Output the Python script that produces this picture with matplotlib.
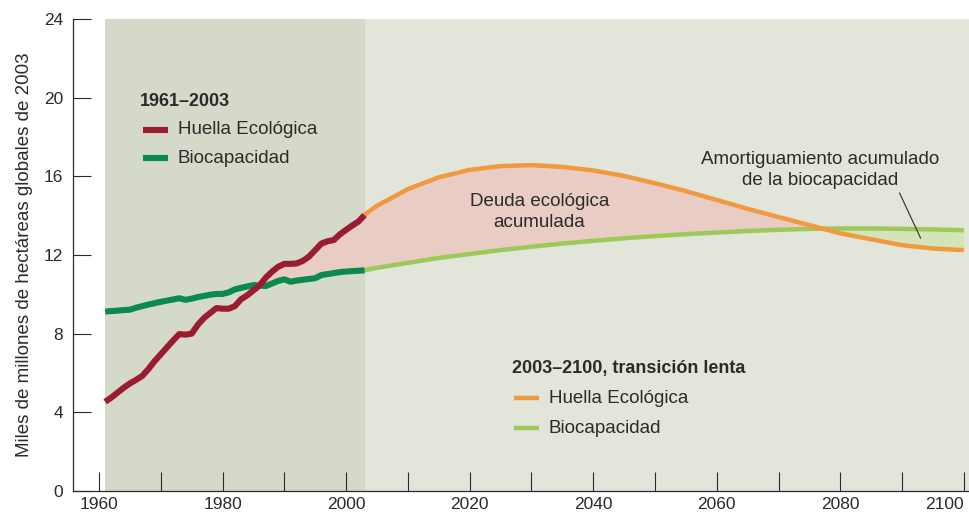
import matplotlib.pyplot as plt
import numpy as np

plt.rcParams['font.family'] = ['Liberation Sans', 'DejaVu Sans']
plt.rcParams['font.size'] = 13.5

# historical series, 1961-2003 (one value per year)
hist_years = list(range(1961, 2004))
hist_footprint = [4.54, 4.75, 5.0, 5.25, 5.47, 5.65, 5.85, 6.2, 6.6, 6.95,
                  7.3, 7.65, 7.98, 7.95, 8.0, 8.45, 8.8, 9.05, 9.3, 9.27,
                  9.27, 9.4, 9.75, 9.95, 10.2, 10.45, 10.85, 11.15, 11.4, 11.55,
                  11.55, 11.57, 11.7, 11.92, 12.25, 12.58, 12.7, 12.76, 13.05, 13.28,
                  13.5, 13.7, 14.03]
hist_biocap = [9.12, 9.15, 9.17, 9.2, 9.22, 9.32, 9.4, 9.48, 9.55, 9.62,
               9.68, 9.74, 9.8, 9.72, 9.78, 9.86, 9.92, 9.98, 10.02, 10.02,
               10.1, 10.25, 10.33, 10.4, 10.47, 10.45, 10.42, 10.55, 10.68, 10.76,
               10.64, 10.7, 10.74, 10.78, 10.82, 10.98, 11.03, 11.08, 11.13, 11.16,
               11.18, 11.2, 11.22]

# slow-transition scenario, 2003-2100
proj_years = [2003, 2005, 2010, 2015, 2020, 2025, 2030, 2035, 2040, 2045, 2050,
              2055, 2060, 2065, 2070, 2075, 2080, 2085, 2090, 2095, 2100]
proj_footprint = [14.05, 14.5, 15.35, 15.95, 16.33, 16.52, 16.57, 16.48, 16.3, 16.02, 15.65,
                  15.25, 14.8, 14.35, 13.93, 13.52, 13.1, 12.8, 12.5, 12.33, 12.25]
proj_biocap = [11.22, 11.35, 11.6, 11.85, 12.05, 12.25, 12.42, 12.58, 12.72, 12.85, 12.96,
               13.06, 13.14, 13.22, 13.28, 13.33, 13.35, 13.35, 13.33, 13.3, 13.26]

red = '#9b1b30'
green = '#0b8a4f'
orange = '#f0993e'
lgreen = '#9dc95b'
txt = '#2b2b2b'

fig = plt.figure(figsize=(9.7, 5.15), dpi=100)
ax = fig.add_axes([0.0753, 0.0466, 0.9247, 0.9165])

ax.axvspan(1961, 2003, color='#d5d9c9', lw=0, zorder=0)
ax.axvspan(2003, 2101, color='#e2e5da', lw=0, zorder=0)

hy = np.array(hist_years)
hf = np.array(hist_footprint)
hb = np.array(hist_biocap)
py = np.array(proj_years)
pf = np.array(proj_footprint)
pb = np.array(proj_biocap)

# deficit (pink) and reserve (light green) areas
ax.fill_between(hy, hf, hb, where=hf > hb, interpolate=True, color='#e9ccc4', lw=0, zorder=1)
ax.fill_between(py, pf, pb, where=pf >= pb, interpolate=True, color='#e9ccc4', lw=0, zorder=1)
ax.fill_between(py, pf, pb, where=pf <= pb, interpolate=True, color='#d4e3b8', lw=0, zorder=1)

ax.plot(py, pb, color=lgreen, lw=3.2, solid_capstyle='butt', zorder=3)
ax.plot(py, pf, color=orange, lw=3.2, solid_capstyle='butt', zorder=4)
ax.plot(hy, hb, color=green, lw=4.4, solid_capstyle='butt', zorder=3)
ax.plot(hy, hf, color=red, lw=4.4, solid_capstyle='butt', zorder=4)

ax.set_xlim(1955.8, 2101)
ax.set_ylim(0, 24)
ax.set_xticks(range(1960, 2101, 20))
ax.set_xticks(range(1960, 2101, 10), minor=True)
ax.set_yticks(range(0, 25, 4))
ax.tick_params(axis='x', which='both', direction='in', length=14, width=0.8,
               color=txt, labelcolor=txt, pad=4, labelsize=12.5)
ax.tick_params(axis='y', direction='in', length=13, width=0.8,
               color=txt, labelcolor=txt, pad=7, labelsize=12.5)
# last year label kept inside the figure
ax.get_xticklabels()[-1].set_horizontalalignment('right')
for s in ['top', 'right']:
    ax.spines[s].set_visible(False)
for s in ['left', 'bottom']:
    ax.spines[s].set_color(txt)
    ax.spines[s].set_linewidth(0.9)
ax.set_ylabel('Miles de millones de hectáreas globales de 2003', fontsize=13.5,
              color=txt, labelpad=8)

# legend blocks drawn by hand in axes coordinates
def legend_block(x0, y0, title, c1, c2, lw, dy):
    ax.text(x0, y0, title, transform=ax.transAxes, fontsize=13, fontweight='bold',
            color=txt, va='center', ha='left')
    for i, (c, lab) in enumerate([(c1, 'Huella Ecológica'), (c2, 'Biocapacidad')]):
        yy = y0 - dy * (i + 1)
        ax.plot([x0 + 0.003, x0 + 0.031], [yy, yy], transform=ax.transAxes,
                color=c, lw=lw, solid_capstyle='butt', clip_on=False)
        ax.text(x0 + 0.0415, yy, lab, transform=ax.transAxes, fontsize=13.5,
                color=txt, va='center', ha='left')

legend_block(0.075, 0.826, '1961–2003', red, green, 4.4, 0.0605)
legend_block(0.489, 0.260, '2003–2100, transición lenta', orange, lgreen, 3.2, 0.0635)

ax.text(2031.3, 14.2, 'Deuda ecológica\nacumulada', ha='center', va='center',
        fontsize=13.5, color=txt, linespacing=1.3)
ax.text(2076.7, 16.3, 'Amortiguamiento acumulado\nde la biocapacidad', ha='center',
        va='center', fontsize=13.5, color=txt, linespacing=1.3)
ax.plot([2089.6, 2093.0], [15.15, 12.86], color=txt, lw=0.8, zorder=5)

fig.savefig('out.png', dpi=100)
